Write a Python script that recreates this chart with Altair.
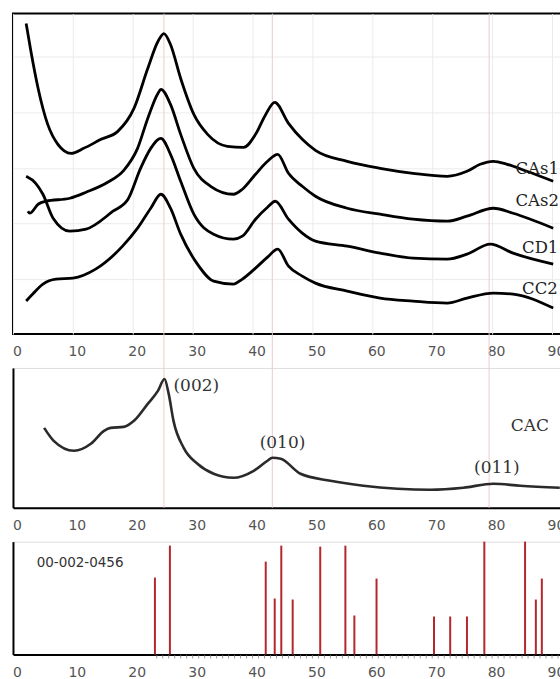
import altair as alt
import pandas as pd

# ---------------- data ----------------
# top panel: four stacked XRD traces (2-theta, intensity a.u.)
cas1_x = [2.2, 3.0, 4.2, 5.8, 7.5, 9.7, 11.8, 14.7, 17.5, 20.2, 22.5, 24.2, 25.2, 26.3, 28.0, 30.2, 32.5, 35.8, 38.5, 40.5, 42.2, 43.7, 46.0, 48.3, 50.5, 55.8, 61.3, 66.8, 72.5, 75.8, 78.0, 80.2, 82.5, 85.8, 90.2]
cas1_y = [311, 283, 246, 210, 190, 181, 186, 195, 203, 226, 266, 293, 301, 290, 256, 220, 200, 188, 187, 200, 220, 232, 211, 195, 184, 173, 166, 161, 158, 163, 170, 173, 170, 163, 153]

cas2_x = [2.5, 2.8, 4.2, 5.5, 9.5, 12.2, 15.8, 18.5, 20.8, 22.5, 24.2, 24.7, 26.3, 28.0, 30.2, 33.0, 36.8, 38.3, 40.5, 42.5, 44.2, 46.0, 48.3, 50.5, 55.8, 61.3, 66.8, 72.5, 75.8, 80.2, 83.5, 90.2]
cas2_y = [123, 121, 130, 133, 136, 142, 152, 164, 186, 216, 241, 245, 230, 200, 166, 148, 140, 145, 160, 173, 180, 161, 148, 138, 126, 120, 115, 113, 118, 126, 121, 106]

cd1_x = [2.2, 3.8, 5.0, 6.7, 9.5, 12.2, 16.7, 19.2, 21.3, 23.0, 24.7, 26.3, 28.0, 30.2, 33.5, 36.8, 38.3, 40.5, 42.5, 43.8, 46.0, 48.3, 50.5, 55.8, 61.3, 66.8, 72.5, 75.8, 79.7, 83.5, 90.2]
cd1_y = [158, 151, 140, 116, 103, 105, 123, 135, 166, 186, 196, 180, 153, 120, 100, 95, 98, 115, 127, 133, 115, 101, 93, 88, 81, 76, 75, 80, 90, 81, 70]

cc2_x = [2.2, 3.3, 5.0, 7.2, 10.0, 13.8, 18.3, 20.8, 23.0, 24.7, 26.3, 28.0, 30.8, 33.5, 36.8, 38.3, 40.5, 42.5, 44.2, 46.0, 48.3, 50.5, 55.8, 61.3, 66.8, 72.5, 75.8, 80.2, 83.5, 90.2]
cc2_y = [33, 40, 50, 55, 56, 65, 88, 106, 126, 140, 126, 100, 70, 53, 50, 55, 66, 77, 85, 68, 58, 51, 43, 36, 33, 31, 36, 41, 40, 26]

sample_names = ["CAs1", "CAs2", "CD1", "CC2"]
label_x = [83.9, 83.9, 85.0, 85.0]
label_y = [165, 133, 86, 45]

# middle panel: CAC trace
cac_x = [5.2, 6.8, 10.2, 13.0, 15.2, 16.3, 18.5, 20.2, 22.5, 24.2, 25.3, 26.0, 26.8, 28.5, 30.8, 33.5, 36.8, 40.2, 42.5, 43.3, 44.7, 48.0, 53.0, 58.5, 64.2, 69.7, 75.2, 80.2, 84.7, 91.3]
cac_y = [80, 67, 57, 64, 77, 80, 81, 87, 104, 117, 129, 114, 87, 60, 44, 34, 30, 37, 47, 50, 49, 34, 27, 22, 19, 18, 20, 24, 22, 20]

mid_text = ["(002)", "(010)", "(011)", "CAC"]
mid_text_x = [26.8, 45.0, 80.8, 86.3]
mid_text_y = [122, 65, 40, 82]
mid_text_align = ["left", "center", "center", "center"]

# vertical reference lines (peak positions)
peak_lines = [25.2, 43.3, 79.5]

# bottom panel: reference pattern 00-002-0456
stick_x = [23.7, 26.2, 42.2, 43.7, 44.8, 46.7, 51.3, 55.5, 57.0, 60.7, 70.3, 73.0, 75.8, 78.7, 85.5, 87.3, 88.3]
stick_y = [77, 109, 93, 56, 109, 55, 108, 109, 39, 76, 38, 38, 38, 113, 113, 55, 76]
card_label = "00-002-0456"
minor_ticks = list(range(24, 92))

x_ticks = [0, 10, 20, 30, 40, 50, 60, 70, 80, 90]
top_grid_y = [55, 111, 166, 222, 278]

# ---------------- layout ----------------
W = 549
H_TOP, H_MID, H_BOT = 321, 140, 113
GAP = 34
X_DOMAIN = [0, 91.5]

xscale = alt.Scale(domain=X_DOMAIN, nice=False, zero=False)


def x_axis(domain_line, grid=False):
    return alt.Axis(values=x_ticks, grid=grid, gridColor="#ebebeb", gridWidth=1,
                    domain=domain_line, domainColor="black", domainWidth=2,
                    ticks=False, tickSize=0, labelPadding=11, labelOffset=4,
                    labelFont="DejaVu Sans", labelFontSize=14, labelColor="#555",
                    labelOverlap=False, labelFlush=False, title=None)


# top panel
frames = []
for name, xs, ys in zip(sample_names, [cas1_x, cas2_x, cd1_x, cc2_x], [cas1_y, cas2_y, cd1_y, cc2_y]):
    frames.append(pd.DataFrame({"theta": xs, "intensity": ys, "sample": name}))
top_df = pd.concat(frames, ignore_index=True)

top_rules = alt.Chart(pd.DataFrame({"x": peak_lines})).mark_rule(
    color="#f0caca", strokeWidth=1, clip=False
).encode(x=alt.X("x:Q", scale=xscale), y=alt.value(0), y2=alt.value(H_TOP + GAP))

top_lines = alt.Chart(top_df).mark_line(
    color="black", strokeWidth=2.8, interpolate="monotone"
).encode(
    x=alt.X("theta:Q", scale=xscale, axis=x_axis(False, grid=True)),
    y=alt.Y("intensity:Q", scale=alt.Scale(domain=[0, H_TOP], nice=False),
            axis=alt.Axis(values=top_grid_y, grid=True, gridColor="#ebebeb", labels=False,
                          ticks=False, domain=False, title=None)),
    detail="sample:N",
)

top_labels = alt.Chart(pd.DataFrame({"x": label_x, "y": label_y, "t": sample_names})).mark_text(
    align="left", baseline="middle", font="DejaVu Serif", fontSize=16.5, color="#222"
).encode(x=alt.X("x:Q", scale=xscale), y=alt.Y("y:Q"), text="t:N")

top = alt.layer(top_rules, top_lines, top_labels).properties(
    width=W, height=H_TOP, view=alt.ViewBackground(stroke="black", strokeWidth=2)
)

# middle panel
mid_rules = alt.Chart(pd.DataFrame({"x": peak_lines})).mark_rule(
    color="#f0caca", strokeWidth=1
).encode(x=alt.X("x:Q", scale=xscale), y=alt.value(0), y2=alt.value(H_MID))

mid_line = alt.Chart(pd.DataFrame({"theta": cac_x, "intensity": cac_y})).mark_line(
    color="#2a2a2a", strokeWidth=2.6, interpolate="monotone"
).encode(
    x=alt.X("theta:Q", scale=xscale, axis=x_axis(True)),
    y=alt.Y("intensity:Q", scale=alt.Scale(domain=[0, H_MID], nice=False),
            axis=alt.Axis(labels=False, ticks=False, grid=False, domain=True,
                          domainColor="black", domainWidth=2, title=None)),
)

mid_df = pd.DataFrame({"x": mid_text_x, "y": mid_text_y, "t": mid_text, "a": mid_text_align})
mid_labels_left = alt.Chart(mid_df[mid_df.a == "left"]).mark_text(
    align="left", baseline="middle", font="DejaVu Serif", fontSize=17, color="#333"
).encode(x=alt.X("x:Q", scale=xscale), y="y:Q", text="t:N")
mid_labels_center = alt.Chart(mid_df[mid_df.a == "center"]).mark_text(
    align="center", baseline="middle", font="DejaVu Serif", fontSize=17, color="#333"
).encode(x=alt.X("x:Q", scale=xscale), y="y:Q", text="t:N")

mid = alt.layer(mid_rules, mid_line, mid_labels_left, mid_labels_center).properties(
    width=W, height=H_MID
)

# bottom panel
bot_minor = alt.Chart(pd.DataFrame({"t": minor_ticks})).mark_rule(
    color="#9a9a9a", strokeWidth=1, clip=False
).encode(x=alt.X("t:Q", scale=xscale), y=alt.value(H_BOT + 1), y2=alt.value(H_BOT + 4))

bot_sticks = alt.Chart(pd.DataFrame({"theta": stick_x, "h": stick_y})).mark_rule(
    color="#b3272d", strokeWidth=2
).encode(
    x=alt.X("theta:Q", scale=xscale, axis=x_axis(True)),
    y=alt.Y("h:Q", scale=alt.Scale(domain=[0, H_BOT], nice=False),
            axis=alt.Axis(labels=False, ticks=False, grid=False, domain=True,
                          domainColor="black", domainWidth=2, title=None)),
    y2=alt.datum(0),
)

bot_label = alt.Chart(pd.DataFrame({"x": [11.2], "y": [92], "t": [card_label]})).mark_text(
    align="center", baseline="middle", font="DejaVu Sans", fontSize=13.5, color="#333"
).encode(x=alt.X("x:Q", scale=xscale), y="y:Q", text="t:N")

bot = alt.layer(bot_minor, bot_sticks, bot_label).properties(width=W, height=H_BOT)

chart = alt.vconcat(top, mid, bot, spacing=GAP, bounds="flush").properties(
    padding={"left": 11, "top": 11, "right": -6, "bottom": -1}
).configure_view(stroke=None).configure(background="white")

chart.save("out.html", embed_options={"renderer": "svg", "actions": False})
